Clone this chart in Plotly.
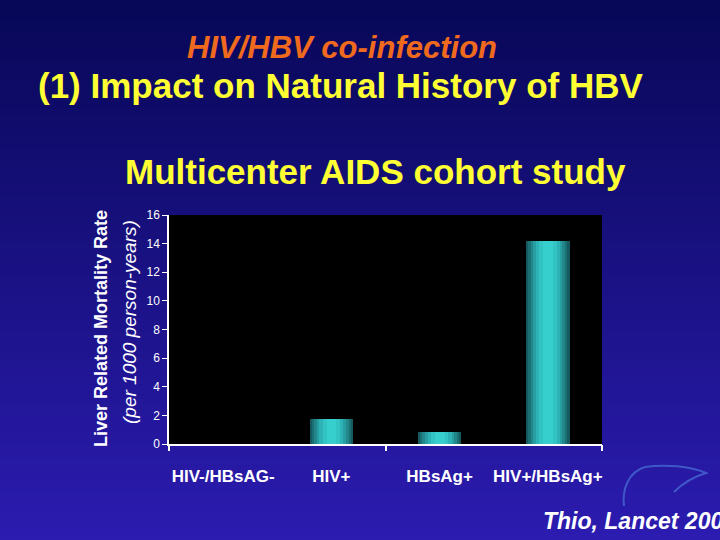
import plotly.graph_objects as go

categories = ["HIV-/HBsAG-", "HIV+", "HBsAg+", "HIV+/HBsAg+"]
mortality_rate = [0.0, 1.75, 0.84, 14.2]
y_ticks = [0, 2, 4, 6, 8, 10, 12, 14, 16]

L, R, T, B = 169, 602, 215, 444
PW, PH = R - L, B - T


def px(x):
    return (x - L) / PW


def py(y):
    return (B - y) / PH


def pt(x, y):
    return "%f,%f" % (px(x), py(y))


fig = go.Figure()

# background gradient bands covering the whole figure
n_bands = 80
top = (8, 8, 88)
bot = (44, 28, 176)
shapes = []
for i in range(n_bands):
    t = i / (n_bands - 1)
    c = tuple(int(top[k] + (bot[k] - top[k]) * t) for k in range(3))
    y0 = 540 * i / n_bands
    y1 = 540 * (i + 1) / n_bands + 1
    shapes.append(dict(type="rect", xref="paper", yref="paper",
                       x0=px(-10), x1=px(730), y0=py(y1), y1=py(y0),
                       fillcolor="rgb(%d,%d,%d)" % c, line=dict(width=0), layer="below"))
# black plot area
shapes.append(dict(type="rect", xref="paper", yref="paper", x0=0, x1=1, y0=0, y1=1,
                   fillcolor="black", line=dict(width=0), layer="below"))
# faint liver logo outline (decoration)
path = ("M " + pt(624, 506) + " C " + pt(622, 490) + " " + pt(628, 472) + " " + pt(645, 467)
        + " C " + pt(665, 464) + " " + pt(690, 466) + " " + pt(706, 473)
        + " C " + pt(696, 476) + " " + pt(684, 482) + " " + pt(674, 492))
shapes.append(dict(type="path", xref="paper", yref="paper", path=path,
                   line=dict(color="rgba(80,130,225,0.6)", width=2), layer="above"))

# cylinder-like bars: stacked overlay bars with narrowing widths
xs = list(range(len(categories)))
shades = [("#155a5e", 0.40), ("#1b7074", 0.36), ("#21878b", 0.32), ("#279ea1", 0.27),
          ("#2db3b5", 0.22), ("#32c3c3", 0.16), ("#37cfcd", 0.09)]
for col, w in shades:
    fig.add_trace(go.Bar(x=xs, y=mortality_rate, width=w, marker=dict(color=col, line=dict(width=0)),
                         hoverinfo="skip", showlegend=False))

# secondary axis just for the tick marks between category pairs
fig.add_trace(go.Scatter(x=[-0.5, 3.5], y=[0, 0], xaxis="x2", mode="lines",
                         line=dict(width=0), hoverinfo="skip", showlegend=False))

fig.update_layout(
    width=720, height=540,
    margin=dict(l=L, r=720 - R, t=T, b=540 - B),
    paper_bgcolor="#1a1478",
    plot_bgcolor="#000000",
    barmode="overlay",
    bargap=0,
    shapes=shapes,
    xaxis=dict(range=[-0.5, 3.5], tickvals=xs, ticktext=categories, ticks="",
               showline=True, linecolor="white", linewidth=1.5, showgrid=False, zeroline=False,
               ticklabelstandoff=16,
               tickfont=dict(family="Liberation Sans, Arial", size=17, color="white", weight="bold")),
    xaxis2=dict(overlaying="x", range=[-0.5, 3.5], tickvals=[-0.5, 1.5, 3.5], ticks="outside",
                ticklen=6, tickcolor="white", tickwidth=1.5, showticklabels=False,
                showgrid=False, zeroline=False, showline=False, anchor="y", side="bottom"),
    yaxis=dict(range=[0, 16], tickvals=y_ticks, ticks="outside", ticklen=5, tickcolor="white",
               showline=True, linecolor="white", linewidth=1.5, showgrid=False, zeroline=False,
               tickfont=dict(family="Liberation Sans, Arial", size=12, color="white")),
)

anns = [
    dict(text="<b><i>HIV/HBV co-infection</i></b>", x=342, y=47, font=dict(family="Liberation Sans, Arial", size=31, color="#f06a1e")),
    dict(text="<b>(1) Impact on Natural History of HBV</b>", x=340, y=86, font=dict(family="Liberation Sans, Arial", size=35, color="#ffff33")),
    dict(text="<b>Multicenter AIDS cohort study</b>", x=375, y=172, font=dict(family="Liberation Sans, Arial", size=35, color="#ffff33")),
    dict(text="<b>Liver Related Mortality Rate</b>", x=101, y=329, textangle=-90, font=dict(family="Liberation Sans, Arial", size=18, color="white")),
    dict(text="<i>(per 1000 person-years)</i>", x=129, y=322, textangle=-90, font=dict(family="Liberation Sans, Arial", size=19, color="white")),
    dict(text="<b><i>Thio, Lancet 2002</i></b>", x=541, y=521, xanchor="left", font=dict(family="Liberation Sans, Arial", size=23, color="white")),
]
for a in anns:
    ax, ay = a.pop("x"), a.pop("y")
    fig.add_annotation(xref="paper", yref="paper", x=px(ax), y=py(ay),
                       showarrow=False, xanchor=a.pop("xanchor", "center"), yanchor="middle", **a)

fig.write_html("out.html", config={"displayModeBar": False},
               post_script="document.body.style.margin='0';document.body.style.overflow='hidden';")
